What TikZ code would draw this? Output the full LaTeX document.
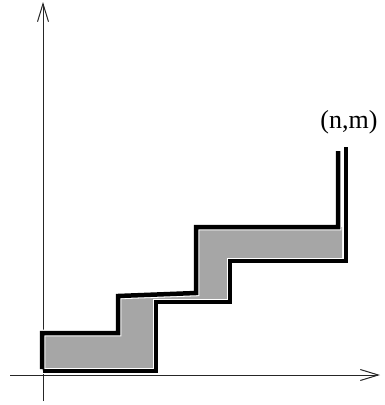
\documentclass[tikz,border=0pt]{standalone}
\usepackage{fontspec}
\setmainfont{Liberation Serif}
\usepackage{tikz}
\usetikzlibrary{arrows.meta, calc, positioning}

\tikzset{
    axis/.style={line width=0.9pt, black!85, -{Straight Barb[length=18pt, width=11pt, line width=1pt]}},
    pathline/.style={line width=4.5pt, black, line join=miter},
    halo/.style={line width=6.6pt, white, line join=miter},
    band/.style={fill=black!35},
}

\begin{document}
\begin{tikzpicture}[x=1pt, y=-1pt]

    \useasboundingbox (0,0) rectangle (385,405);

    % =================================================================
    % Trục tọa độ
    % =================================================================
    \coordinate (O) at (43,375);
    \draw[axis] (10,375) -- (380,375);
    \draw[axis] (43,401) -- (43,2);

    % =================================================================
    % Hai đường bậc thang (trên và dưới)
    % =================================================================
    \coordinate (U0) at (42,369);
    \coordinate (U1) at (42,333);
    \coordinate (U2) at (118,333);
    \coordinate (U3) at (118,296);
    \coordinate (U4) at (196,293);
    \coordinate (U5) at (196,227);
    \coordinate (U6) at (338,227);
    \coordinate (U7) at (338,151);

    \coordinate (L0) at (43,371);
    \coordinate (L1) at (156,371);
    \coordinate (L2) at (156,302);
    \coordinate (L3) at (230,302);
    \coordinate (L4) at (230,261);
    \coordinate (L5) at (346,261);
    \coordinate (L6) at (346,147);

    % Dải tô xám giữa hai đường
    \fill[band] (U0) -- (U1) -- (U2) -- (U3) -- (U4) -- (U5) -- (342,227)
        -- (342,261) -- (L4) -- (L3) -- (L2) -- (L1) -- (L0) -- cycle;

    % Viền trắng mảnh quanh các đường đậm
    \draw[halo] (U0) -- (U1) -- (U2) -- (U3) -- (U4) -- (U5) -- (U6) -- (U7);
    \draw[halo] (L0) -- (L1) -- (L2) -- (L3) -- (L4) -- (L5) -- (L6);

    % Đường trên và đường dưới
    \draw[pathline] (U0) -- (U1) -- (U2) -- (U3) -- (U4) -- (U5) -- (U6) -- (U7);
    \draw[pathline] (L0) -- (L1) -- (L2) -- (L3) -- (L4) -- (L5) -- (L6);

    % Nhãn điểm cuối
    \node[font=\fontsize{26}{30}\selectfont, inner sep=0pt] (end) at (349,122) {(n,m)};

\end{tikzpicture}
\end{document}
